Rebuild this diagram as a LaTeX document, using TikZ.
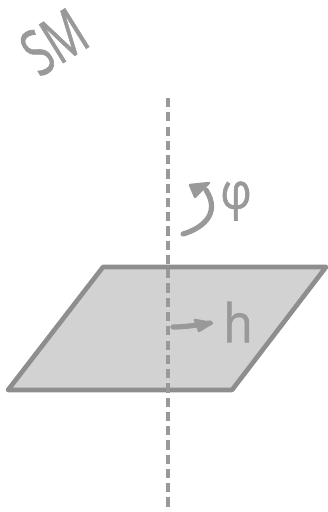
\documentclass[tikz,border=0pt]{standalone}
\usepackage{fontspec}
\setmainfont{Open Sans}
\newfontfamily\semi[FakeBold=1.2]{Open Sans}
\definecolor{ink}{HTML}{999999}
\definecolor{edge}{HTML}{8E8E8E}
\definecolor{plane}{HTML}{D2D2D2}
\tikzset{
  hand/.style={text=ink,inner sep=0pt,font=\semi\fontsize{#1}{#1}\selectfont},
  stroke/.style={draw=ink,line width=3.9pt,line cap=round},
  tip/.style={fill=ink,draw=ink,line width=1.8pt,line join=round},
  axis/.style={draw=ink,line width=3.6pt,dash pattern=on 6.9pt off 3.8pt}
}
\begin{document}
\begin{tikzpicture}[x=0.75pt,y=-0.75pt]
\useasboundingbox (0,0) rectangle (328,512);
\coordinate (pa) at (103,267);
\coordinate (pb) at (326,267);
\coordinate (pc) at (232,390);
\coordinate (pd) at (8,390);
\draw[fill=plane,draw=edge,line width=3.5pt,line join=round] (pa) -- (pb) -- (pc) -- (pd) -- cycle;
\coordinate (top) at (168,98);
\coordinate (bot) at (168,510);
\draw[axis] (top) -- (bot);
% rotation arrow
\coordinate (r0) at (183,234);
\coordinate (r1) at (206,190);
\draw[stroke] (r0) .. controls (200,229) and (222,215) .. (r1);
\draw[tip] (190,185) -- (209,183) -- (195,197) -- cycle;
% displacement arrow
\coordinate (d0) at (173,327);
\coordinate (d1) at (210,323);
\draw[stroke] (d0) .. controls (185,327) and (198,325) .. (d1);
\draw[tip] (195,320) -- (212,323) -- (199,331) -- cycle;
% labels
\node[hand=44,rotate=32,xscale=0.74,yscale=1.08] (sm) at (54,42) {SM};
\node[hand=31,yscale=1.2,xscale=1.05] (phi) at (236,201) {φ};
\node[hand=38,xscale=0.95,yscale=1.05] (h) at (238,322) {h};
\end{tikzpicture}
\end{document}
